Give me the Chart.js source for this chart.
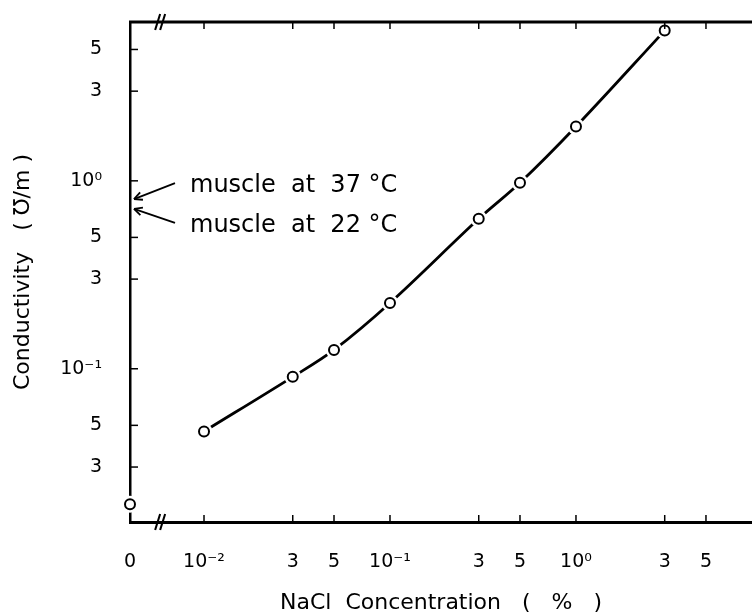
<!DOCTYPE html>
<html><head><meta charset="utf-8">
<script src="https://cdn.jsdelivr.net/npm/chart.js@4.4.0/dist/chart.umd.min.js"></script>
<style>html,body{margin:0;padding:0;background:#fff}#wrap{width:752px;height:616px}</style>
</head><body><div id="wrap"><canvas id="c" width="752" height="616"></canvas></div>
<script>
// NaCl concentration (%) and measured conductivity (S/m)
const concentration = [0.01, 0.03, 0.05, 0.1, 0.3, 0.5, 1, 3];
const conductivity  = [0.0464, 0.0906, 0.126, 0.224, 0.628, 0.976, 1.945, 6.3];
// pure water point plotted at "0" (left of the axis break)
const zeroConcentration = [0];
const zeroConductivity  = [0.019];
// tick values and labels
const xTickValues = [0, 0.01, 0.03, 0.05, 0.1, 0.3, 0.5, 1, 3, 5];
const xTickLabels = ["0", "10⁻²", "3", "5", "10⁻¹", "3", "5", "10⁰", "3", "5"];
const yTickValues = [0.03, 0.05, 0.1, 0.3, 0.5, 1, 3, 5];
const yTickLabels = ["3", "5", "10⁻¹", "3", "5", "10⁰", "3", "5"];
// reference annotations
const muscleLabels = ["muscle  at  37 °C", "muscle  at  22 °C"];
const muscleConductivity = [0.80, 0.71];

const X_MIN = 0.004, X_MAX = 8.84;   // "0" sits at the broken-axis minimum
const Y_MIN = 0.0153, Y_MAX = 7.0;
const FONT = '"DejaVu Sans", sans-serif';

const xOf = v => (v === 0 ? X_MIN : v);
const curvePts = concentration.map((c, i) => ({x: c, y: conductivity[i]}));
const allPts = zeroConcentration.map((c, i) => ({x: xOf(c), y: zeroConductivity[i]})).concat(curvePts);

Chart.defaults.font.family = FONT;
Chart.defaults.color = '#000';

function line(ctx, x1, y1, x2, y2) { ctx.beginPath(); ctx.moveTo(x1, y1); ctx.lineTo(x2, y2); ctx.stroke(); }
function noPad(s) { s.paddingTop = 0; s.paddingBottom = 0; s.paddingLeft = 0; s.paddingRight = 0; }

const decor = {
  id: 'decor',
  afterDatasetsDraw(chart) {
    const {ctx, chartArea: {left, right, top, bottom}, scales: {x, y}} = chart;
    ctx.save();
    ctx.strokeStyle = '#000';
    ctx.lineCap = 'butt';
    // top frame line
    ctx.lineWidth = 3;
    line(ctx, left - 1, top, right, top);
    // inward tick marks
    ctx.lineWidth = 1.5;
    xTickValues.forEach(v => {
      if (v === 0) return;
      const px = x.getPixelForValue(v);
      line(ctx, px, bottom, px, bottom - 7);
      line(ctx, px, top, px, top + 7);
    });
    yTickValues.forEach(v => {
      const py = y.getPixelForValue(v);
      line(ctx, left, py, left + 8, py);
    });
    // axis break marks
    const bx = left + 0.38 * (x.getPixelForValue(concentration[0]) - left);
    ctx.lineWidth = 2;
    [top, bottom].forEach(by => {
      line(ctx, bx - 3, by + 8, bx + 2, by - 8);
      line(ctx, bx + 2, by + 8, bx + 7, by - 8);
    });
    // muscle annotations with arrows
    ctx.fillStyle = '#000';
    ctx.font = '24px ' + FONT;
    ctx.textBaseline = 'middle';
    ctx.textAlign = 'left';
    const offs = [-16, 14];
    muscleConductivity.forEach((v, i) => {
      const ty = y.getPixelForValue(v);
      const tx = left + 4;
      const ex = left + 45, ey = ty + offs[i];
      ctx.lineWidth = 1.8;
      line(ctx, tx, ty, ex, ey);
      const ang = Math.atan2(ey - ty, ex - tx);
      const L = 9, a = 0.45;
      line(ctx, tx, ty, tx + L * Math.cos(ang + a), ty + L * Math.sin(ang + a));
      line(ctx, tx, ty, tx + L * Math.cos(ang - a), ty + L * Math.sin(ang - a));
      ctx.fillText(muscleLabels[i], left + 60, ty + (i === 0 ? -13 : 17));
    });
    ctx.restore();
  }
};

new Chart(document.getElementById('c'), {
  type: 'line',
  data: {
    datasets: [
      {
        label: 'curve', data: curvePts, borderColor: '#000', borderWidth: 2.8,
        tension: 0.35, pointRadius: 0, fill: false, order: 3
      },
      {
        label: 'halo', data: allPts, showLine: false, pointRadius: 8.5,
        pointBackgroundColor: '#fff', pointBorderWidth: 0, pointBorderColor: '#fff',
        clip: false, order: 2
      },
      {
        label: 'NaCl solution', data: allPts, showLine: false, pointRadius: 5,
        pointBackgroundColor: '#fff', pointBorderColor: '#000', pointBorderWidth: 2,
        clip: false, order: 1
      }
    ]
  },
  options: {
    responsive: false,
    animation: false,
    devicePixelRatio: 1,
    layout: {autoPadding: false, padding: {top: 22, right: 0, left: 0, bottom: 0}},
    plugins: {legend: {display: false}, tooltip: {enabled: false}},
    scales: {
      x: {
        type: 'logarithmic', min: X_MIN, max: X_MAX,
        afterBuildTicks: s => { s.ticks = xTickValues.map(v => ({value: xOf(v)})); },
        afterFit: s => { s.height = 94; noPad(s); },
        ticks: {
          callback: (v, i) => xTickLabels[i], autoSkip: false, maxRotation: 0,
          padding: 29, font: {size: 19}, color: '#000'
        },
        grid: {display: false, drawTicks: false},
        border: {display: true, color: '#000', width: 3},
        title: {display: true, text: 'NaCl  Concentration   (   %   )', font: {size: 22}, color: '#000', padding: {top: 0, bottom: 0}}
      },
      y: {
        type: 'logarithmic', min: Y_MIN, max: Y_MAX,
        afterBuildTicks: s => { s.ticks = yTickValues.map(v => ({value: v})); },
        afterFit: s => { s.width = 130; noPad(s); },
        ticks: {
          callback: (v, i) => yTickLabels[i], autoSkip: false,
          padding: 28, font: {size: 19}, color: '#000'
        },
        grid: {display: false, drawTicks: false},
        border: {display: true, color: '#000', width: 2.5},
        title: {display: true, text: 'Conductivity   ( ℧/m )', font: {size: 22}, color: '#000', padding: {top: 10, bottom: 0}}
      }
    }
  },
  plugins: [decor]
});
</script>
</body></html>
